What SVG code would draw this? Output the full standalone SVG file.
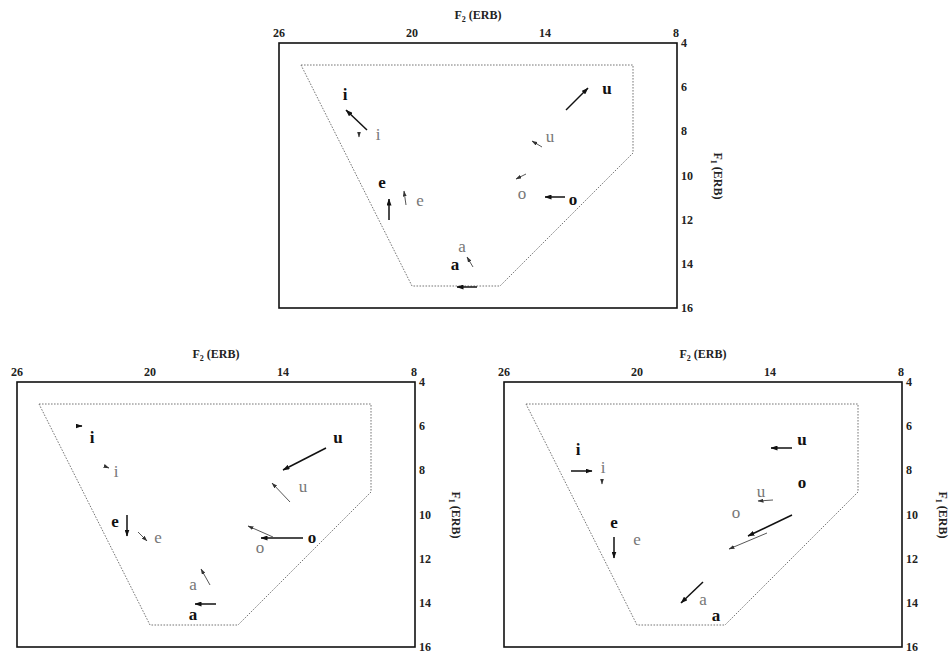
<svg xmlns="http://www.w3.org/2000/svg" width="950" height="651" viewBox="0 0 950 651">
<defs>
<style>
.box{fill:none;stroke:#111;stroke-width:1.6}
.poly{fill:none;stroke:#777;stroke-width:1;stroke-dasharray:1.6 1.4}
.tick{font-family:"Liberation Serif",serif;font-weight:bold;font-size:12px;fill:#222}
.ttl{font-family:"Liberation Serif",serif;font-weight:bold;font-size:12px;fill:#222}
.vb{font-family:"Liberation Serif",serif;font-weight:bold;font-size:17px;fill:#111;text-anchor:middle}
.vl{font-family:"Liberation Serif",serif;font-size:17px;fill:#777;text-anchor:middle}
.ar{stroke:#111;stroke-width:1.5;fill:none;marker-end:url(#ah)}
.at{stroke:#444;stroke-width:0.9;fill:none;marker-end:url(#ah2)}
</style>
<marker id="ah" viewBox="0 0 7 5" refX="6.5" refY="2.5" markerWidth="7" markerHeight="5" markerUnits="userSpaceOnUse" orient="auto"><path d="M0,0 L7,2.5 L0,5 z" fill="#111"/></marker>
<marker id="ah2" viewBox="0 0 6 4" refX="5.5" refY="2" markerWidth="6" markerHeight="4" markerUnits="userSpaceOnUse" orient="auto"><path d="M0,0 L6,2 L0,4 z" fill="#333"/></marker>
<g id="frame">
<rect class="box" x="0" y="0" width="398" height="265"/>
<polygon class="poly" points="22,22 354,22 354,110 221,243 133,243"/>
<g class="tick" text-anchor="middle">
<text x="0" y="-6">26</text><text x="133" y="-6">20</text><text x="266" y="-6">14</text><text x="397" y="-6">8</text>
</g>
<g class="tick">
<text x="402" y="4">4</text><text x="402" y="48">6</text><text x="402" y="92">8</text><text x="402" y="137">10</text><text x="402" y="181">12</text><text x="402" y="225">14</text><text x="402" y="269">16</text>
</g>
<text class="ttl" x="199" y="-24" text-anchor="middle">F<tspan font-size="8" dy="3">2</tspan><tspan dy="-3"> (ERB)</tspan></text>
<text class="ttl" transform="translate(435,133) rotate(90)" text-anchor="middle">F<tspan font-size="8" dy="3">1</tspan><tspan dy="-3"> (ERB)</tspan></text>
</g>
</defs>

<g id="panel-top" transform="translate(279,43)">
<use href="#frame"/>
<g id="top-labels">
<text class="vb" x="66" y="57">i</text>
<text class="vl" x="99" y="97">i</text>
<text class="vb" x="328" y="51">u</text>
<text class="vl" x="271" y="99">u</text>
<text class="vb" x="103" y="145">e</text>
<text class="vl" x="141" y="163">e</text>
<text class="vl" x="243" y="156">o</text>
<text class="vb" x="294" y="162">o</text>
<text class="vl" x="183" y="209">a</text>
<text class="vb" x="176" y="227">a</text>
</g>
<g id="top-arrows">
<line class="ar" x1="88" y1="87" x2="67" y2="67"/>
<line class="at" x1="80" y1="89" x2="80" y2="94"/>
<line class="ar" x1="287" y1="67" x2="309" y2="45"/>
<line class="at" x1="263" y1="104" x2="253" y2="98"/>
<line class="ar" x1="110" y1="177" x2="110" y2="156"/>
<line class="at" x1="127" y1="162" x2="125" y2="148"/>
<line class="at" x1="247" y1="131" x2="237" y2="136"/>
<line class="ar" x1="286" y1="154" x2="266" y2="154"/>
<line class="at" x1="194" y1="224" x2="188" y2="214"/>
<line class="ar" x1="198" y1="244" x2="178" y2="244"/>
</g>
</g>

<g id="panel-bl" transform="translate(17,382)">
<use href="#frame"/>
<g id="bl-labels">
<text class="vb" x="75" y="61">i</text>
<text class="vl" x="99" y="95">i</text>
<text class="vb" x="321" y="61">u</text>
<text class="vl" x="286" y="110">u</text>
<text class="vb" x="98" y="145">e</text>
<text class="vl" x="141" y="161">e</text>
<text class="vb" x="295" y="161">o</text>
<text class="vl" x="243" y="171">o</text>
<text class="vl" x="176" y="208">a</text>
<text class="vb" x="176" y="238">a</text>
</g>
<g id="bl-arrows">
<line class="ar" x1="59" y1="44" x2="65" y2="44"/>
<line class="at" x1="87" y1="84" x2="92" y2="86"/>
<line class="ar" x1="309" y1="66" x2="266" y2="88"/>
<line class="at" x1="273" y1="120" x2="255" y2="101"/>
<line class="ar" x1="110" y1="133" x2="110" y2="154"/>
<line class="at" x1="121" y1="150" x2="130" y2="159"/>
<line class="ar" x1="286" y1="156" x2="244" y2="156"/>
<line class="at" x1="256" y1="155" x2="231" y2="144"/>
<line class="at" x1="193" y1="203" x2="184" y2="187"/>
<line class="ar" x1="199" y1="222" x2="178" y2="222"/>
</g>
</g>

<g id="panel-br" transform="translate(504,382)">
<use href="#frame"/>
<g id="br-labels">
<text class="vb" x="74" y="73">i</text>
<text class="vl" x="99" y="91">i</text>
<text class="vb" x="298" y="63">u</text>
<text class="vb" x="298" y="106">o</text>
<text class="vl" x="257" y="115">u</text>
<text class="vl" x="232" y="136">o</text>
<text class="vb" x="110" y="146">e</text>
<text class="vl" x="133" y="163">e</text>
<text class="vl" x="199" y="223">a</text>
<text class="vb" x="212" y="239">a</text>
</g>
<g id="br-arrows">
<line class="ar" x1="67" y1="89" x2="88" y2="89"/>
<line class="at" x1="98" y1="97" x2="98" y2="102"/>
<line class="ar" x1="288" y1="66" x2="267" y2="66"/>
<line class="at" x1="269" y1="118" x2="254" y2="119"/>
<line class="ar" x1="288" y1="133" x2="244" y2="154"/>
<line class="at" x1="263" y1="151" x2="225" y2="167"/>
<line class="ar" x1="110" y1="155" x2="110" y2="176"/>
<line class="ar" x1="199" y1="200" x2="177" y2="221"/>
</g>
</g>
</svg>
